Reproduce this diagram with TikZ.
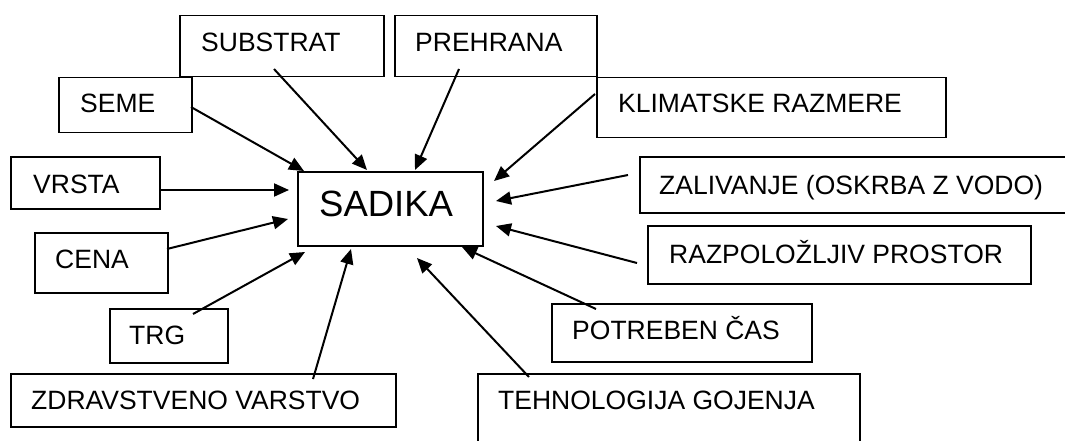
\documentclass[tikz,border=0pt]{standalone}
\usepackage{fontspec}
\setmainfont{Liberation Sans}
\usetikzlibrary{arrows.meta}
\begin{document}
\begin{tikzpicture}[x=1pt,y=-1pt,
  box/.style={draw=black, line width=1.5pt, anchor=north west, inner sep=0pt},
  lbl/.style={anchor=base west, inner sep=0pt, font=\fontsize{26.5}{30}\selectfont},
  big/.style={anchor=base west, inner sep=0pt, font=\fontsize{36.5}{40}\selectfont},
  arr/.style={line width=2pt, -{Triangle[length=15pt,width=13pt]}}]
\clip (0,0) rectangle (1065,441);
\fill[white] (0,0) rectangle (1065,441);
% boxes
\node[box, minimum width=204pt, minimum height=61pt] (bSub) at (179,15) {};
\node[box, minimum width=202pt, minimum height=61pt] (bPre) at (394,15) {};
\node[box, minimum width=133pt, minimum height=55pt] (bSem) at (58,77) {};
\node[box, minimum width=149pt, minimum height=52pt] (bVrs) at (10,156) {};
\node[box, minimum width=185pt, minimum height=74pt] (bSad) at (297,171) {};
\node[box, minimum width=349pt, minimum height=60pt] (bKli) at (596,77) {};
\node[box, minimum width=450pt, minimum height=56pt] (bZal) at (639,156) {};
\node[box, minimum width=133pt, minimum height=60pt] (bCen) at (34,232) {};
\node[box, minimum width=118pt, minimum height=54pt] (bTrg) at (109,308) {};
\node[box, minimum width=385pt, minimum height=53pt] (bZdr) at (10,373) {};
\node[box, minimum width=382pt, minimum height=100pt] (bTeh) at (477,373) {};
\node[box, minimum width=383pt, minimum height=58pt] (bRaz) at (647,225) {};
\node[box, minimum width=260pt, minimum height=58pt] (bPot) at (551,303) {};
% texts
\node[lbl] (tSub) at (201,52) {SUBSTRAT};
\node[lbl] (tPre) at (415,52) {PREHRANA};
\node[lbl] (tSem) at (80,113) {SEME};
\node[lbl] (tVrs) at (33,193) {VRSTA};
\node[big] (tSad) at (319,216) {SADIKA};
\node[lbl] (tKli) at (618,113) {KLIMATSKE RAZMERE};
\node[lbl] (tZal) at (659,194) {ZALIVANJE (OSKRBA Z VODO)};
\node[lbl] (tCen) at (55,268) {CENA};
\node[lbl] (tTrg) at (129,344) {TRG};
\node[lbl] (tZdr) at (31,409) {ZDRAVSTVENO VARSTVO};
\node[lbl] (tTeh) at (498,409) {TEHNOLOGIJA GOJENJA};
\node[lbl] (tRaz) at (669,263) {RAZPOLOŽLJIV PROSTOR};
\node[lbl] (tPot) at (572,339) {POTREBEN ČAS};
% connector ends
\coordinate (sSem) at (191,107);  \coordinate (eSem) at (304,171);
\coordinate (sSub) at (274,69);   \coordinate (eSub) at (367,170);
\coordinate (sPre) at (459,69);   \coordinate (ePre) at (415,170);
\coordinate (sKli) at (595,94);   \coordinate (eKli) at (494,181);
\coordinate (sVrs) at (159,190);  \coordinate (eVrs) at (289,190);
\coordinate (sZal) at (628,175);  \coordinate (eZal) at (496,201);
\coordinate (sCen) at (167,249);  \coordinate (eCen) at (288,219);
\coordinate (sTrg) at (193,314);  \coordinate (eTrg) at (305,252);
\coordinate (sZdr) at (313,379);  \coordinate (eZdr) at (351,249);
\coordinate (sTeh) at (529,377);  \coordinate (eTeh) at (417,258);
\coordinate (sPot) at (596,309);  \coordinate (ePot) at (462,247);
\coordinate (sRaz) at (637,263);  \coordinate (eRaz) at (496,226);
% arrows
\foreach \n in {Sem,Sub,Pre,Kli,Vrs,Zal,Cen,Trg,Zdr,Teh,Pot,Raz}
  \draw[arr] (s\n) -- (e\n);
\end{tikzpicture}
\end{document}
